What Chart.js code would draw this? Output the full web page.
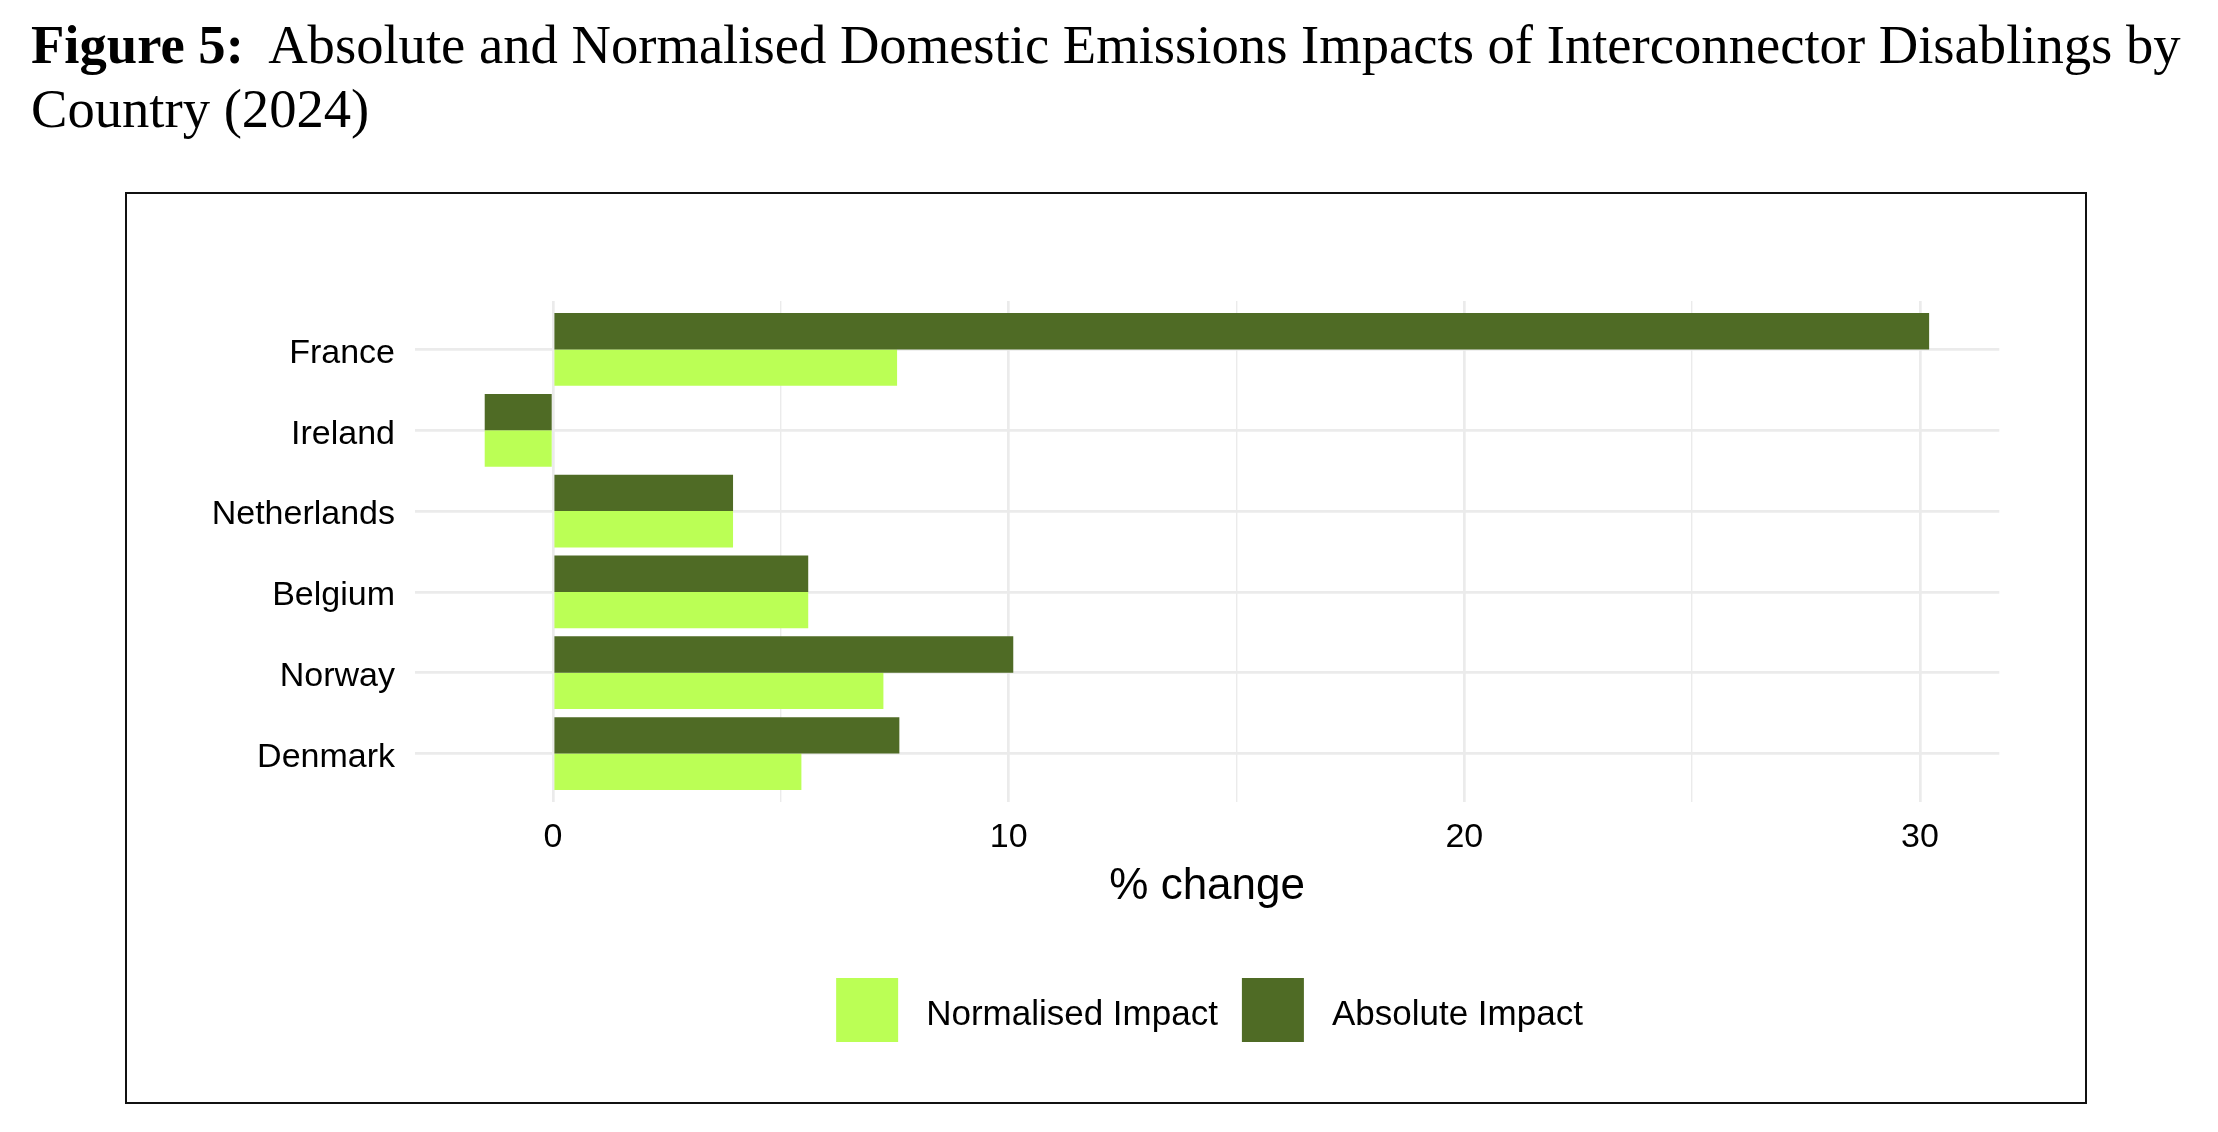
<!DOCTYPE html>
<html>
<head>
<meta charset="utf-8">
<script src="https://cdn.jsdelivr.net/npm/chart.js@4.4.1/dist/chart.umd.min.js"></script>
<style>
  html, body { margin: 0; padding: 0; background: #fff; }
  body { width: 2218px; height: 1132px; position: relative; overflow: hidden; }
  #c { position: absolute; left: 0; top: 0; }
  .tl { position: absolute; left: 31px; white-space: nowrap; font-family: "Liberation Serif", "DejaVu Serif", serif; color: #000; line-height: 1; }
  .tl b { font-weight: bold; }
  #box { position: absolute; left: 124.8px; top: 191.5px; width: 1958px; height: 908px; border: 2.4px solid #111; pointer-events: none; }
</style>
</head>
<body>
<div id="t1" class="tl"><b>Figure 5:</b>&nbsp; Absolute and Normalised Domestic Emissions Impacts of Interconnector Disablings by</div>
<div id="t2" class="tl">Country (2024)</div>
<div id="box"></div>
<canvas id="c" width="2218" height="1132" style="width:2218px;height:1132px"></canvas>
<script>
// ---- data ----
const categories = ["France", "Ireland", "Netherlands", "Belgium", "Norway", "Denmark"];
const absoluteImpact   = [30.2, -1.5, 3.95, 5.6, 10.1, 7.6];
const normalisedImpact = [7.55, -1.5, 3.95, 5.6, 7.25, 5.45];
const xTickValues = [0, 5, 10, 15, 20, 25, 30];
const xLabelledTicks = [0, 10, 20, 30];
const seriesNames = ["Absolute Impact", "Normalised Impact"];
const seriesColors = ["#4F6B25", "#BBFF55"];

// ---- title fitting ----
(function () {
  const t1 = document.getElementById('t1'), t2 = document.getElementById('t2');
  let fs = 48;
  t1.style.fontSize = fs + 'px';
  const w = t1.getBoundingClientRect().width;
  fs = fs * 2150 / w;
  t1.style.fontSize = fs + 'px';
  t2.style.fontSize = fs + 'px';
  t1.style.top = (64 - 0.8375 * fs) + 'px';
  t2.style.top = (127.7 - 0.8375 * fs) + 'px';
})();

const FONT = '"Liberation Sans", Arial, sans-serif';

const legendPlugin = {
  id: 'customLegend',
  afterDraw(chart) {
    const ctx = chart.ctx;
    ctx.save();
    ctx.font = '35px ' + FONT;
    const items = [
      { text: seriesNames[1], color: seriesColors[1] },
      { text: seriesNames[0], color: seriesColors[0] }
    ];
    const boxW = 62, boxH = 64, gapText = 28, gapItem = 24;
    let total = 0;
    items.forEach((it, i) => {
      it.w = ctx.measureText(it.text).width;
      total += boxW + gapText + it.w + (i < items.length - 1 ? gapItem : 0);
    });
    let x = 1209.5 - total / 2;
    const cy = 1010;
    items.forEach((it) => {
      ctx.fillStyle = it.color;
      ctx.fillRect(x, cy - boxH / 2, boxW, boxH);
      x += boxW + gapText;
      ctx.fillStyle = '#000';
      ctx.textBaseline = 'alphabetic';
      ctx.textAlign = 'left';
      ctx.fillText(it.text, x, 1025);
      x += it.w + gapItem;
    });
    ctx.restore();
  }
};

new Chart(document.getElementById('c'), {
  type: 'bar',
  data: {
    datasets: [
      {
        label: seriesNames[0],
        data: absoluteImpact.map((v, i) => ({ x: v, y: i + 1 })),
        backgroundColor: seriesColors[0],
        borderWidth: 0
      },
      {
        label: seriesNames[1],
        data: normalisedImpact.map((v, i) => ({ x: v, y: i + 1 })),
        backgroundColor: seriesColors[1],
        borderWidth: 0
      }
    ]
  },
  options: {
    indexAxis: 'y',
    responsive: false,
    animation: false,
    devicePixelRatio: 1,
    categoryPercentage: 0.9,
    barPercentage: 1.0,
    layout: { padding: { left: 0, right: 218.7, top: 301, bottom: 218.6 } },
    plugins: {
      legend: { display: false },
      tooltip: { enabled: false },
      title: { display: false }
    },
    scales: {
      y: {
        type: 'linear',
        reverse: true,
        min: 0.4,
        max: 6.6,
        offset: false,
        border: { display: false },
        grid: { offset: false, color: '#EBEBEB', lineWidth: 2.7, drawTicks: false },
        afterBuildTicks: (scale) => { scale.ticks = categories.map((c, i) => ({ value: i + 1 })); },
        afterFit: (scale) => { scale.width = 415; },
        ticks: {
          autoSkip: false,
          padding: 20,
          labelOffset: 4,
          color: '#000',
          font: { family: FONT, size: 34 },
          callback: (v) => categories[Math.round(v) - 1]
        }
      },
      x: {
        type: 'linear',
        min: -3.03,
        max: 31.74,
        border: { display: false },
        grid: {
          color: '#EBEBEB',
          drawTicks: false,
          lineWidth: (ctx) => (ctx.tick && xLabelledTicks.includes(ctx.tick.value)) ? 2.7 : 1.4
        },
        afterBuildTicks: (scale) => { scale.ticks = xTickValues.map(v => ({ value: v })); },
        afterFit: (scale) => { scale.height = 111.4; },
        ticks: {
          autoSkip: false,
          maxRotation: 0,
          padding: 15,
          color: '#000',
          font: { family: FONT, size: 34 },
          callback: (v) => xLabelledTicks.includes(v) ? String(v) : ''
        },
        title: {
          display: true,
          text: '% change',
          color: '#000',
          padding: 0,
          font: { family: FONT, size: 44, lineHeight: 1.2 }
        }
      }
    }
  },
  plugins: [legendPlugin]
});
</script>
</body>
</html>
